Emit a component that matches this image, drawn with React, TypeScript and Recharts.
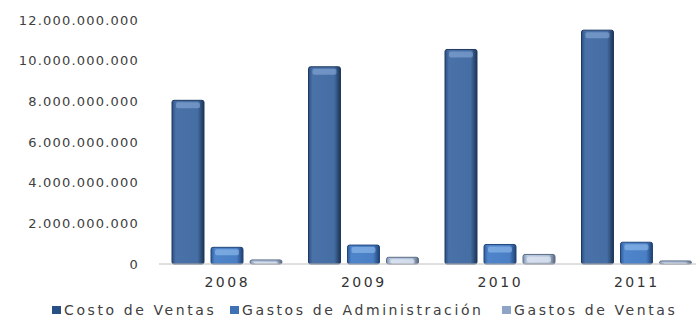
// Costo de Ventas / Gastos de Administración / Gastos de Ventas, 2008-2011

import { Bar, BarChart, Legend, XAxis, YAxis } from "recharts";

const years = ["2008", "2009", "2010", "2011"];
const costoVentas = [8050000000, 9700000000, 10550000000, 11500000000];
const gastosAdmin = [820000000, 930000000, 960000000, 1070000000];
const gastosVentas = [200000000, 330000000, 470000000, 150000000];
const yTicks = [0, 2000000000, 4000000000, 6000000000, 8000000000, 10000000000, 12000000000];

const data = years.map((year, i) => ({
  year,
  costo: costoVentas[i],
  admin: gastosAdmin[i],
  ventas: gastosVentas[i],
}));

const fmt = (n: number) => String(n).replace(/\B(?=(\d{3})+(?!\d))/g, ".");

const FONT = "'DejaVu Sans', Verdana, sans-serif";

const legendItems = [
  { label: "Costo de Ventas", color: "#2a4f84", x: 52 },
  { label: "Gastos de Administración", color: "#3f71b6", x: 230 },
  { label: "Gastos de Ventas", color: "#8ea4c6", x: 502 },
];

function ChartLegend() {
  return (
    <div style={{ position: "relative", width: 706, height: 30, fontFamily: FONT }}>
      {legendItems.map((item) => (
        <div
          key={item.label}
          style={{
            position: "absolute",
            left: item.x,
            top: 14,
            display: "flex",
            alignItems: "center",
            fontSize: 14,
            letterSpacing: 2.6,
            color: "#404040",
            whiteSpace: "nowrap",
          }}
        >
          <span
            style={{
              display: "inline-block",
              width: 9,
              height: 8,
              marginRight: 3,
              background: item.color,
            }}
          />
          {item.label}
        </div>
      ))}
    </div>
  );
}

// bar with a small bevel highlight at its top, like the original
function makeBevel(fill: string, stroke: string, shine: string) {
  return (props: any) => {
    const { x, y, width, height } = props;
    if (!height || height <= 0) return null;
    const band = Math.min(6, height - 2);
    return (
      <g>
        <rect x={x} y={y} width={width} height={height} rx={2} fill={fill} stroke={stroke} strokeWidth={1} />
        {band > 1 && (
          <rect
            x={x + 4}
            y={y + 2}
            width={width - 8}
            height={band}
            rx={2}
            fill={shine}
            opacity={0.55}
          />
        )}
      </g>
    );
  };
}

export default function App() {
  return (
    <div
      style={{
        position: "absolute",
        left: 0,
        top: 0,
        width: 696,
        height: 318,
        overflow: "hidden",
        background: "#fff",
      }}
    >
      <BarChart
        width={706}
        height={318}
        data={data}
        margin={{ top: 20, right: 1, bottom: 0, left: 0 }}
        barSize={32}
        barGap={7}
      >
        <defs>
          <linearGradient id="gCosto" x1="0" y1="0" x2="1" y2="0">
            <stop offset="0%" stopColor="#2b4f82" />
            <stop offset="12%" stopColor="#4a72a8" />
            <stop offset="80%" stopColor="#456ea4" />
            <stop offset="100%" stopColor="#1b3454" />
          </linearGradient>
          <linearGradient id="gAdmin" x1="0" y1="0" x2="1" y2="0">
            <stop offset="0%" stopColor="#2e5a98" />
            <stop offset="12%" stopColor="#4f85cb" />
            <stop offset="80%" stopColor="#4a7fc5" />
            <stop offset="100%" stopColor="#1e3f70" />
          </linearGradient>
          <linearGradient id="gVentas" x1="0" y1="0" x2="1" y2="0">
            <stop offset="0%" stopColor="#7d91ae" />
            <stop offset="12%" stopColor="#b8c8e0" />
            <stop offset="80%" stopColor="#aebfd8" />
            <stop offset="100%" stopColor="#56667e" />
          </linearGradient>
        </defs>
        <XAxis
          dataKey="year"
          height={24}
          tickLine={false}
          tickSize={0}
          tickMargin={13}
          axisLine={{ stroke: "#c0c0c0" }}
          tick={{ fontSize: 14, fill: "#333", fontFamily: FONT, letterSpacing: 2.5 }}
        />
        <YAxis
          width={159}
          domain={[0, 12000000000]}
          ticks={yTicks}
          tickFormatter={fmt}
          axisLine={false}
          tickLine={false}
          tickSize={0}
          tickMargin={20}
          tick={{ fontSize: 13, fill: "#404040", fontFamily: FONT, letterSpacing: 1.2 }}
        />
        <Legend
          verticalAlign="bottom"
          height={30}
          content={() => <ChartLegend />}
          wrapperStyle={{ left: 0, top: 288, width: 706, height: 30 }}
        />
        <Bar
          dataKey="costo"
          name="Costo de Ventas"
          fill="#456ea4"
          shape={makeBevel("url(#gCosto)", "#1f3a60", "#8fb0dc")}
          isAnimationActive={false}
        />
        <Bar
          dataKey="admin"
          name="Gastos de Administración"
          fill="#4a7fc5"
          shape={makeBevel("url(#gAdmin)", "#22467a", "#9cc4f2")}
          isAnimationActive={false}
        />
        <Bar
          dataKey="ventas"
          name="Gastos de Ventas"
          fill="#aebfd8"
          shape={makeBevel("url(#gVentas)", "#5c6c84", "#eef4fc")}
          isAnimationActive={false}
        />
      </BarChart>
    </div>
  );
}
